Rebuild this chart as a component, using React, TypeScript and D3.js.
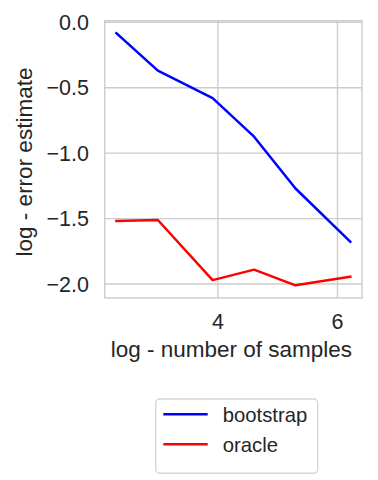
import React, { useEffect, useRef } from "react";
import * as d3 from "d3";

// sample sizes (x is log of them) and log error estimates
const sampleSizes = [10, 20, 50, 100, 200, 500];
const bootstrapErr = [-0.084, -0.37, -0.58, -0.874, -1.27, -1.677];
const oracleErr = [-1.519, -1.511, -1.97, -1.89, -2.01, -1.944];
const xTicks = [4, 6];
const yTicks = [0.0, -0.5, -1.0, -1.5, -2.0];
const seriesNames = ["bootstrap", "oracle"];
const seriesColors = ["#0000ff", "#ff0000"];

export default function App() {
  const svgRef = useRef<SVGSVGElement>(null);

  useEffect(() => {
    const width = 378;
    const height = 480;
    const left = 104.7, right = 362, top = 20.7, bottom = 297.9;
    const grid = "#cccccc";
    const textColor = "#262626";
    const font = "'Liberation Sans', Arial, sans-serif";

    const svg = d3.select(svgRef.current);
    svg.selectAll("*").remove();
    svg.attr("width", width).attr("height", height);

    const xs = sampleSizes.map((n) => Math.log(n));
    const x = d3.scaleLinear().domain([2.107, 6.41]).range([left, right]);
    const y = d3.scaleLinear().domain([-2.106, 0.012]).range([bottom, top]);

    // Grid
    svg.append("g")
      .selectAll("line")
      .data(xTicks)
      .join("line")
      .attr("x1", (d) => x(d)).attr("x2", (d) => x(d))
      .attr("y1", top).attr("y2", bottom)
      .attr("stroke", grid).attr("stroke-width", 1.4);
    svg.append("g")
      .selectAll("line")
      .data(yTicks)
      .join("line")
      .attr("x1", left).attr("x2", right)
      .attr("y1", (d) => y(d)).attr("y2", (d) => y(d))
      .attr("stroke", grid).attr("stroke-width", 1.4);

    // Spines
    svg.append("rect")
      .attr("x", left).attr("y", top)
      .attr("width", right - left).attr("height", bottom - top)
      .attr("fill", "none").attr("stroke", grid).attr("stroke-width", 1.4);

    // Tick labels
    svg.append("g")
      .selectAll("text")
      .data(yTicks)
      .join("text")
      .attr("x", 89).attr("y", (d) => y(d))
      .attr("dy", "0.36em")
      .attr("text-anchor", "end")
      .attr("font-family", font).attr("font-size", 21.5)
      .attr("fill", textColor)
      .text((d) => d3.format(".1f")(d).replace("-", "\u2212"));
    svg.append("g")
      .selectAll("text")
      .data(xTicks)
      .join("text")
      .attr("x", (d) => x(d)).attr("y", 328.5)
      .attr("text-anchor", "middle")
      .attr("font-family", font).attr("font-size", 21.5)
      .attr("fill", textColor)
      .text((d) => String(d));

    // Axis labels
    svg.append("text")
      .attr("x", (left + right) / 2 - 2).attr("y", 356.7)
      .attr("text-anchor", "middle")
      .attr("font-family", font).attr("font-size", 22.5)
      .attr("fill", textColor)
      .text("log - number of samples");
    svg.append("text")
      .attr("transform", `translate(31.5, 162) rotate(-90)`)
      .attr("text-anchor", "middle")
      .attr("font-family", font).attr("font-size", 22.5)
      .attr("fill", textColor)
      .text("log - error estimate");

    // Lines
    const line = d3.line<number>()
      .x((_, i) => x(xs[i]))
      .y((d) => y(d));
    [bootstrapErr, oracleErr].forEach((s, i) => {
      svg.append("path")
        .attr("d", line(s))
        .attr("fill", "none")
        .attr("stroke", seriesColors[i])
        .attr("stroke-width", 2.5)
        .attr("stroke-linejoin", "round")
        .attr("stroke-linecap", "square");
    });

    // Legend
    const lg = svg.append("g");
    lg.append("rect")
      .attr("x", 155.7).attr("y", 399)
      .attr("width", 162).attr("height", 74.3)
      .attr("rx", 4)
      .attr("fill", "white")
      .attr("stroke", "#d6d6d6").attr("stroke-width", 1.4);
    seriesNames.forEach((name, i) => {
      const ly = 414.3 + i * 30;
      lg.append("line")
        .attr("x1", 163.3).attr("x2", 207.7)
        .attr("y1", ly).attr("y2", ly)
        .attr("stroke", seriesColors[i]).attr("stroke-width", 2.5);
      lg.append("text")
        .attr("x", 222.7).attr("y", ly + 7.2)
        .attr("font-family", font).attr("font-size", 20.3)
        .attr("fill", textColor)
        .text(name);
    });
  }, []);

  return (
    <svg ref={svgRef} style={{ position: "absolute", left: 0, top: 0 }}></svg>
  );
}
